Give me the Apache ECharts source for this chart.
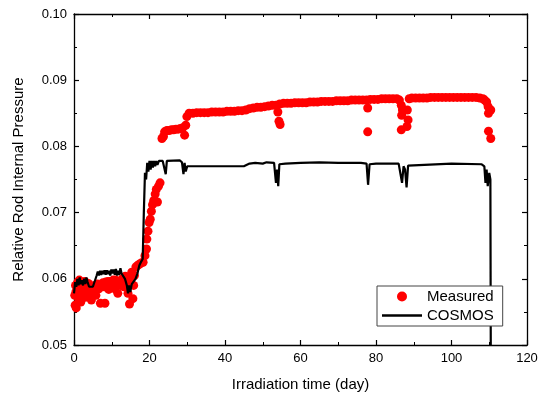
<!DOCTYPE html>
<html><head><meta charset="utf-8">
<script src="https://cdn.jsdelivr.net/npm/echarts@6/dist/echarts.min.js"></script>
<style>html,body{margin:0;padding:0;background:#fff}#c{width:542px;height:398px}</style>
</head><body><div id="c"></div>
<script>
// ---- data ----
const seriesNames = ['Measured', 'COSMOS'];
const xTitle = 'Irradiation time (day)';
const yTitle = 'Relative Rod Internal Pressure';

const measuredEarly = [
 [0.2,0.0575],[0.3,0.0560],[0.4,0.0590],[0.6,0.0556],[0.8,0.0583],[1.0,0.0595],[1.2,0.0570],[1.4,0.0598],[1.5,0.0588],[1.8,0.0565],
 [2.0,0.0592],[2.3,0.0578],[2.6,0.0585],[2.8,0.0596],[3.0,0.0572],[3.3,0.0590],[3.6,0.0580],[4.0,0.0575],[4.3,0.0587],[4.6,0.0568],
 [5.0,0.0585],[5.4,0.0590],[5.8,0.0575],[6.2,0.0592],[6.6,0.0585],[7.0,0.0563],[7.3,0.0590],[7.7,0.0594],[8.0,0.0588],[8.2,0.0563],
 [8.4,0.0595],[8.8,0.0590],[9.2,0.0584],[9.6,0.0596],[10.0,0.0590],[10.4,0.0598],[10.8,0.0585],[11.2,0.0592],[11.6,0.0578],[12.0,0.0596],
 [12.4,0.0590],[12.8,0.0600],[13.2,0.0588],[13.6,0.0604],[14.0,0.0594],[14.3,0.0578],[14.7,0.0562],[15.0,0.0598],[15.3,0.0610],[15.6,0.0570],
 [16.0,0.0605],[16.4,0.0618],[16.8,0.0620],[17.3,0.0622],[17.8,0.0624],[0.5,0.0580],[1.1,0.0586],[2.2,0.0584],[3.8,0.0593],[6.9,0.0590],
 [9.0,0.0596],[11.0,0.0598],[13.0,0.0596],[14.5,0.0600],[15.8,0.0590]
];
const measuredRise = [
 [18.3,0.0625],[18.8,0.0635],[19.2,0.0645],[19.3,0.0660],[19.6,0.0672],[19.9,0.0685],[20.2,0.0690],[20.5,0.0702],[20.8,0.0712],[21.1,0.0718],
 [21.5,0.0728],[21.8,0.0735],[22.1,0.0716],[22.4,0.0740],[22.8,0.0745],[23.3,0.0812],[23.7,0.0815],[24.0,0.0822],[24.6,0.0824],[25.2,0.0824],
 [25.8,0.0825],[26.4,0.0825],[27.0,0.0826],[27.6,0.0826],[28.2,0.0827],[28.8,0.0828],[29.3,0.0817],[29.6,0.0832],[29.9,0.0845]
];
const measuredPlateau = [
 [30.5,0.0850],[31.5,0.0850],[32.5,0.0851],[33.5,0.0851],[34.5,0.0851],[35.5,0.0851],[36.5,0.0852],[37.5,0.0852],[38.5,0.0852],[39.5,0.0852],
 [40.5,0.0853],[41.5,0.0853],[42.5,0.0853],[43.5,0.0854],[44.5,0.0854],[45.5,0.0855],[46.5,0.0857],[47.5,0.0858],[48.5,0.0859],[49.5,0.0859],
 [50.5,0.0860],[51.5,0.0861],[52.5,0.0862],[53.5,0.0862],[54.5,0.0864],[55.5,0.0865],[56.5,0.0865],[57.5,0.0865],[58.5,0.0866],[59.5,0.0866],
 [60.5,0.0866],[61.5,0.0866],[62.5,0.0867],[63.5,0.0867],[64.5,0.0867],[65.5,0.0868],[66.5,0.0868],[67.5,0.0868],[68.5,0.0868],[69.5,0.0869],
 [70.5,0.0869],[71.5,0.0869],[72.5,0.0869],[73.5,0.0870],[74.5,0.0870],[75.5,0.0870],[76.5,0.0870],[77.5,0.0870],[78.5,0.0871],[79.5,0.0871],
 [80.5,0.0871],[81.5,0.0872],[82.5,0.0872],[83.5,0.0872],[84.5,0.0872],[85.5,0.0872],[86.2,0.0870],[88.8,0.0872],[89.5,0.0873],[90.5,0.0873],
 [91.5,0.0873],[92.5,0.0873],[93.5,0.0873],[94.5,0.0874],[95.5,0.0874],[96.5,0.0874],[97.5,0.0874],[98.5,0.0874],[99.5,0.0874],[100.5,0.0874],
 [101.5,0.0874],[102.5,0.0874],[103.5,0.0874],[104.5,0.0874],[105.5,0.0874],[106.5,0.0874],[107.5,0.0873],[108.3,0.0872],[108.8,0.0870],[109.3,0.0867]
];
const measuredDips = [
 [54.0,0.0852],[54.3,0.0838],[54.6,0.0833],[77.8,0.0858],[77.8,0.0822],[86.7,0.0862],[86.8,0.0847],[86.7,0.0825],[87.0,0.0855],
 [88.3,0.0855],[88.5,0.0840],[88.2,0.0830],[109.7,0.0860],[109.8,0.0850],[110.4,0.0855],[109.8,0.0823],[110.4,0.0812]
];
const cosmos = [
 [0,0.0578],[0.3,0.0595],[0.6,0.0588],[0.9,0.0600],[1.2,0.0590],[1.5,0.0602],[1.8,0.0592],[2.1,0.0598],[2.4,0.0590],[2.7,0.0600],
 [3.0,0.0592],[3.3,0.0602],[3.6,0.0595],[4.0,0.0588],[4.5,0.0586],[5.0,0.0588],[5.5,0.0590],[6.0,0.0605],[6.3,0.0611],[6.6,0.0605],
 [6.9,0.0612],[7.2,0.0606],[7.5,0.0612],[7.8,0.0607],[8.1,0.0613],[8.4,0.0606],[8.7,0.0613],[9.0,0.0607],[9.3,0.0612],[9.6,0.0605],
 [9.9,0.0614],[10.2,0.0608],[10.5,0.0614],[10.8,0.0606],[11.1,0.0615],[11.4,0.0605],[11.7,0.0612],[12.0,0.0606],[12.3,0.0616],[12.6,0.0608],
 [13.0,0.0610],[13.5,0.0600],[14.0,0.0590],[14.3,0.0578],[14.6,0.0590],[14.9,0.0580],[15.3,0.0592],[15.8,0.0595],[16.3,0.0600],[16.8,0.0608],
 [17.3,0.0620],[17.8,0.0626],[18.2,0.0630],[18.5,0.0700],[18.8,0.0760],[19.1,0.0750],[19.4,0.0775],[19.7,0.0762],[20.0,0.0778],[20.3,0.0765],
 [20.6,0.0778],[20.9,0.0768],[21.2,0.0778],[21.5,0.0770],[21.8,0.0778],[22.1,0.0772],[22.5,0.0778],[23.0,0.0778],[23.5,0.0778],[24.0,0.0776],
 [24.3,0.0758],[24.6,0.0778],[25.0,0.0779],[28.0,0.0779],[28.6,0.0776],[29.0,0.0758],[29.3,0.0775],[29.6,0.0762],[30.0,0.0770],[35,0.0770],
 [40,0.0770],[45,0.0770],[46.5,0.0774],[48,0.0775],[50,0.0774],[51,0.0776],[53,0.0775],[53.5,0.0745],[53.8,0.0765],[54.1,0.0740],
 [54.4,0.0773],[56,0.0774],[60,0.0775],[65,0.0776],[70,0.0775],[76,0.0775],[77.5,0.0774],[77.9,0.0742],[78.3,0.0773],[80,0.0774],
 [86,0.0774],[86.5,0.0772],[86.9,0.0745],[87.3,0.0770],[87.7,0.0765],[88.1,0.0738],[88.5,0.0771],[89,0.0774],[100,0.0774],[108,0.0773],
 [108.7,0.0770],[109.0,0.0745],[109.3,0.0765],[109.6,0.0740],[110.0,0.0760],[110.3,0.0750],[110.4,0.0500]
];
const xMin = 0, xMax = 120, xStep = 20;
const yMin = 0.05, yMax = 0.10, yStep = 0.01;

// ---- chart ----
const FONT = 'Liberation Sans, Arial, sans-serif';
const chart = echarts.init(document.getElementById('c'), null, {renderer: 'canvas'});
const axisCommon = {
  axisLine: {show: true, onZero: false, lineStyle: {color: '#000', width: 1.3}},
  axisTick: {show: true, inside: true, length: 5, lineStyle: {color: '#000', width: 1.2}},
  minorTick: {show: true, splitNumber: 2, length: 3, lineStyle: {color: '#000', width: 1}},
  splitLine: {show: false}
};
const measured = measuredEarly.concat(measuredRise, measuredPlateau, measuredDips);
chart.setOption({
  animation: false,
  backgroundColor: '#fff',
  grid: {left: 74, right: 15, top: 14, bottom: 53},
  legend: {
    orient: 'vertical', left: 377, top: 286,
    backgroundColor: '#fff', borderColor: '#444', borderWidth: 1,
    padding: [3, 9, 3, 5], itemGap: 4, itemWidth: 40, itemHeight: 10,
    symbolKeepAspect: true,
    textStyle: {fontFamily: FONT, fontSize: 15, color: '#000'},
    data: [
      {name: seriesNames[0], icon: 'circle'},
      {name: seriesNames[1], icon: 'path://M0,0 L40,0 L40,2.6 L0,2.6 Z'}
    ]
  },
  xAxis: [
    Object.assign({type: 'value', min: xMin, max: xMax, interval: xStep, position: 'bottom',
      name: xTitle, nameLocation: 'middle', nameGap: 32,
      nameTextStyle: {fontFamily: FONT, fontSize: 15, color: '#000'},
      axisLabel: {fontFamily: FONT, fontSize: 13, color: '#000', margin: 7}}, axisCommon),
    Object.assign({type: 'value', min: xMin, max: xMax, interval: xStep, position: 'top',
      axisLabel: {show: false}}, axisCommon)
  ],
  yAxis: [
    Object.assign({type: 'value', min: yMin, max: yMax, interval: yStep, position: 'left',
      name: yTitle, nameLocation: 'middle', nameGap: 48,
      nameTextStyle: {fontFamily: FONT, fontSize: 15, color: '#000'},
      axisLabel: {fontFamily: FONT, fontSize: 13, color: '#000', margin: 7, formatter: v => v.toFixed(2)}}, axisCommon),
    Object.assign({type: 'value', min: yMin, max: yMax, interval: yStep, position: 'right',
      axisLabel: {show: false}}, axisCommon)
  ],
  series: [
    {name: seriesNames[0], type: 'scatter', data: measured, symbol: 'circle', symbolSize: 9,
     itemStyle: {color: '#ff0000', opacity: 1}, xAxisIndex: 0, yAxisIndex: 0, z: 2},
    {name: seriesNames[1], type: 'line', data: cosmos, symbol: 'none', showSymbol: false,
     lineStyle: {color: '#000', width: 2.2}, itemStyle: {color: '#000'}, xAxisIndex: 0, yAxisIndex: 0, z: 3}
  ]
});
</script></body></html>
